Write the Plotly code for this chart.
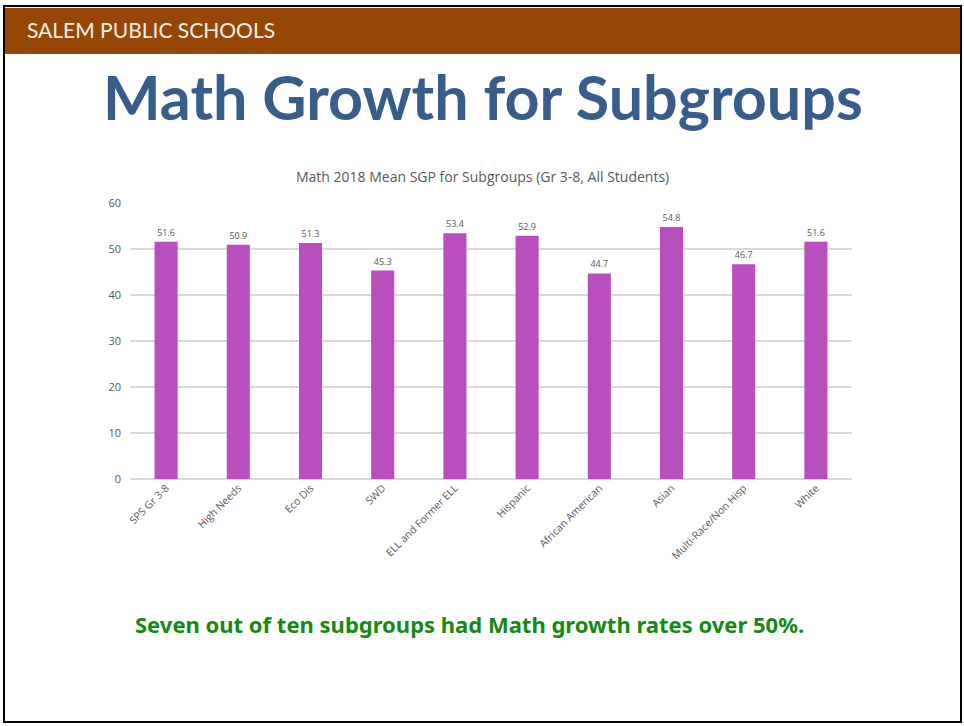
import plotly.graph_objects as go

# chart data
subgroups = ['SPS Gr 3-8', 'High Needs', 'Eco Dis', 'SWD', 'ELL and Former ELL',
             'Hispanic', 'African American', 'Asian', 'Multi-Race/Non Hisp', 'White']
mean_sgp = [51.6, 50.9, 51.3, 45.3, 53.4, 52.9, 44.7, 54.8, 46.7, 51.6]
y_ticks = [0, 10, 20, 30, 40, 50, 60]

W, H = 964, 726

def px_x(v):
    return v / W

def px_y(v):
    return 1 - v / H

fig = go.Figure()

fig.add_trace(go.Bar(
    x=subgroups, y=mean_sgp,
    marker=dict(color='#B94FBE', line=dict(width=0)),
    text=[f'{v:.1f}' for v in mean_sgp],
    textposition='outside', cliponaxis=False,
    textfont=dict(family='Open Sans', size=9, color='#595959'),
    hoverinfo='x+y',
))

fig.update_layout(
    width=W, height=H,
    margin=dict(l=0, r=0, t=0, b=0),
    paper_bgcolor='white', plot_bgcolor='white',
    showlegend=False, bargap=0.68,
    font=dict(family='Open Sans', color='#595959'),
    xaxis=dict(domain=[px_x(130), px_x(852)], showgrid=False, showline=False,
               automargin=False, tickangle=-45,
               tickfont=dict(size=10.5, color='#595959'), ticks=''),
    yaxis=dict(domain=[px_y(479), px_y(203)], range=[0, 60], tickvals=y_ticks,
               automargin=False, showgrid=True, gridcolor='#D9D9D9', gridwidth=2,
               zeroline=True, zerolinecolor='#D9D9D9', zerolinewidth=2,
               tickfont=dict(size=11, color='#595959'), ticks='',
               ticklabelstandoff=8),
)

# slide frame and header band
fig.add_shape(type='rect', xref='paper', yref='paper',
              x0=px_x(5), x1=px_x(960), y0=px_y(54), y1=px_y(8),
              fillcolor='#974705', line=dict(width=0), layer='below')
fig.add_shape(type='rect', xref='paper', yref='paper',
              x0=px_x(4), x1=px_x(961), y0=px_y(722), y1=px_y(6),
              line=dict(color='black', width=2))

fig.add_annotation(text='SALEM PUBLIC SCHOOLS', xref='paper', yref='paper',
                   x=px_x(25), y=px_y(30), xanchor='left', yanchor='middle',
                   showarrow=False, font=dict(family='Lato', size=21, color='#F5EEE8'))
fig.add_annotation(text='<b>Math Growth for Subgroups</b>', xref='paper', yref='paper',
                   x=px_x(483), y=px_y(97), xanchor='center', yanchor='middle',
                   showarrow=False, font=dict(family='Lato', size=61, color='#385D8A'))
fig.add_annotation(text='Math 2018 Mean SGP for Subgroups (Gr 3-8, All Students)',
                   xref='paper', yref='paper', x=px_x(482), y=px_y(177),
                   xanchor='center', yanchor='middle', showarrow=False,
                   font=dict(family='Open Sans', size=14, color='#595959'))
fig.add_annotation(text='<b>Seven out of ten subgroups had Math growth rates over 50%.</b>',
                   xref='paper', yref='paper', x=px_x(469), y=px_y(624),
                   xanchor='center', yanchor='middle', showarrow=False,
                   font=dict(family='Noto Sans', size=22, color='#138A12'))

fig.write_html('out.html', config={'displayModeBar': False},
               post_script="document.body.style.margin='0';")
